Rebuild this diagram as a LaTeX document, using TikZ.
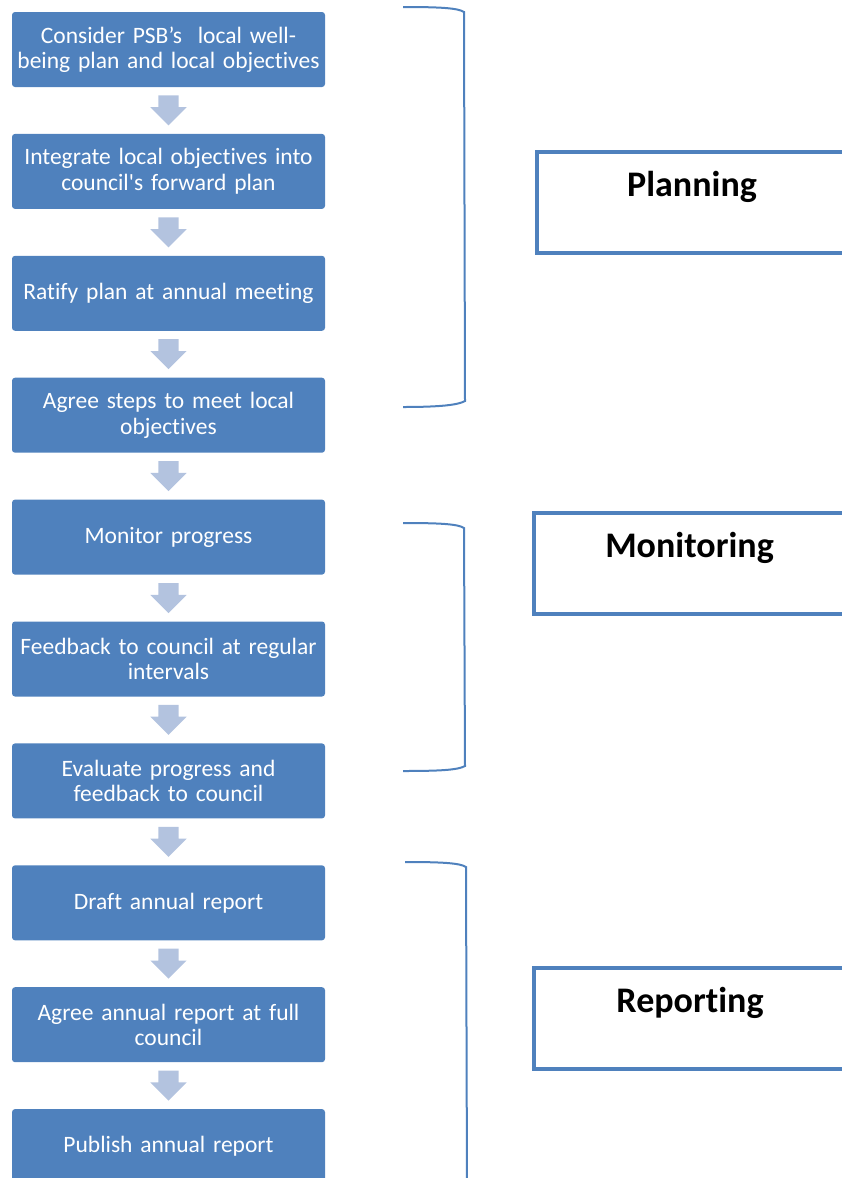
\documentclass[tikz,border=0pt]{standalone}
\usepackage{fontspec}
\setmainfont{Carlito}[Ligatures=NoCommon, WordSpace=0.8]
\usetikzlibrary{positioning}
\usetikzlibrary{calc}
\usetikzlibrary{shapes.arrows}
\definecolor{step blue}{HTML}{4F81BD}
\definecolor{arrow blue}{HTML}{B3C3DF}
\tikzset{
    % Filled blue box holding one step of the process
    step box/.style={
        fill=step blue, rounded corners=3pt, text=white, align=center,
        text width=308pt, minimum width=313pt, minimum height=75pt,
        inner sep=0pt, font=\fontsize{23.5}{25.5}\selectfont},
%
    % Pale block arrow leading from one step to the next
    flow arrow/.style={
        single arrow, fill=arrow blue, rotate=-90, anchor=tail,
        inner sep=0pt, inner ysep=10pt, minimum height=30pt,
        single arrow head extend=8pt},
%
    % Open box naming a phase
    phase box/.style={draw=step blue, line width=4pt,
        minimum width=330pt, minimum height=101pt},
    phase label/.style={font=\fontsize{36}{40}\selectfont\bfseries},
%
    % Square bracket gathering the steps of a phase
    phase bracket/.style={draw=step blue, line width=2pt}}

\begin{document}
\begin{tikzpicture}[x=1pt, y=1pt]
\useasboundingbox (0,0) rectangle (842,-1178);

% Pale arrow below step #1, pointing to the next one
\newcommand{\flowarrow}[1]{
\node [flow arrow] (#1 arrow) at ($(#1.south)+(0,-8)$) {};
}

% Steps of the process
\node [step box] (consider) at (168.5,-49.5)
    {Consider PSB’s~ local well-\\being plan and local objectives};
\node [step box, below=46.5pt of consider] (integrate)
    {Integrate local objectives into\\council\textquotesingle s forward plan};
\node [step box, below=46.5pt of integrate] (ratify)
    {Ratify plan at annual meeting};
\node [step box, below=46.5pt of ratify] (agree steps)
    {Agree steps to meet local\\objectives};
\node [step box, below=46.5pt of agree steps] (monitor)
    {Monitor progress};
\node [step box, below=46.5pt of monitor] (feedback)
    {Feedback to council at regular\\intervals};
\node [step box, below=46.5pt of feedback] (evaluate)
    {Evaluate progress and\\feedback to council};
\node [step box, below=46.5pt of evaluate] (draft)
    {Draft annual report};
\node [step box, below=46.5pt of draft] (agree report)
    {Agree annual report at full\\council};
\node [step box, below=46.5pt of agree report] (publish)
    {Publish annual report};

\flowarrow{consider}
\flowarrow{integrate}
\flowarrow{ratify}
\flowarrow{agree steps}
\flowarrow{monitor}
\flowarrow{feedback}
\flowarrow{evaluate}
\flowarrow{draft}
\flowarrow{agree report}

% Brackets round each phase
\draw [phase bracket] (403,-7) .. controls (440,-7) and (458,-8)
    .. (464,-12) -- (465,-401) .. controls (458,-405) and (440,-407)
    .. (403,-407);
\draw [phase bracket] (403,-523) .. controls (440,-523) and (458,-524)
    .. (464,-528) -- (465,-766) .. controls (458,-770) and (440,-771)
    .. (403,-771);
\draw [phase bracket] (405,-862) .. controls (442,-862) and (460,-863)
    .. (466,-867) -- (467,-1190);

% Phase names
\node [phase box] (planning) at (702,-202.5) {};
\node [phase label] (planning label) at (692,-187) {Planning};
\node [phase box] (monitoring) at (699,-563.5) {};
\node [phase label] (monitoring label) at (689.5,-548) {Monitoring};
\node [phase box] (reporting) at (699,-1018.5) {};
\node [phase label] (reporting label) at (690,-1003) {Reporting};

\end{tikzpicture}
\end{document}
